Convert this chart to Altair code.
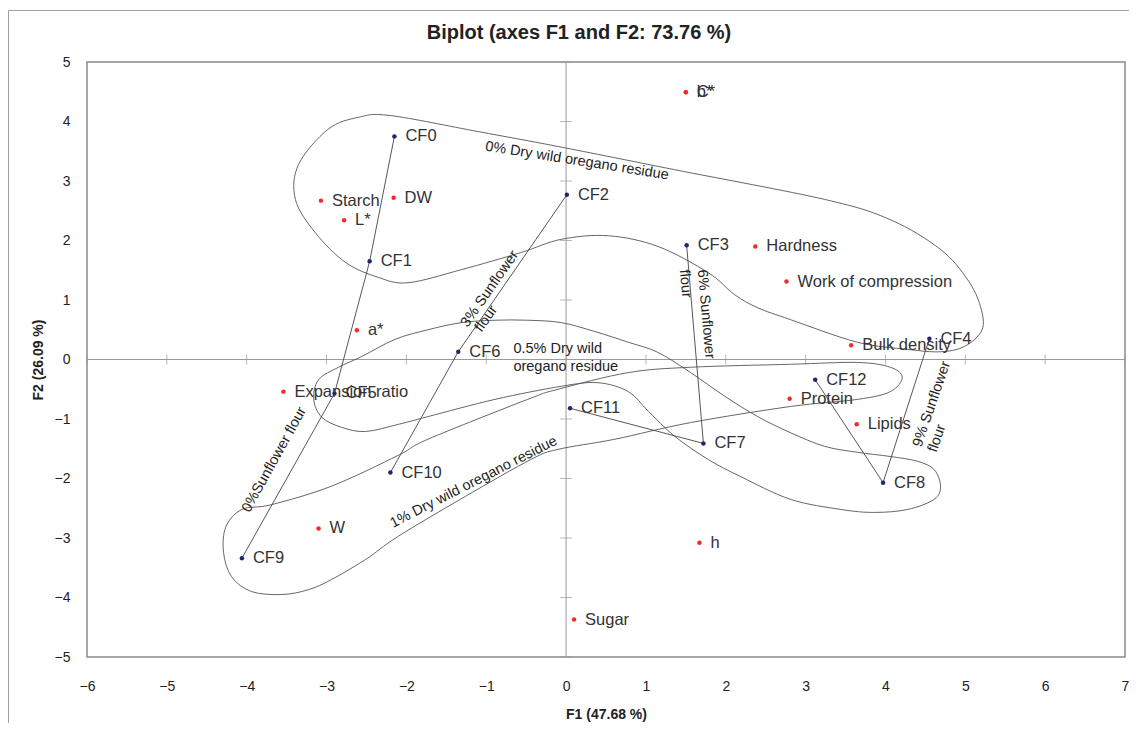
import altair as alt
import pandas as pd

# ---------------- data ----------------
obs_names = ["CF0", "CF1", "CF2", "CF3", "CF4", "CF5", "CF6", "CF7", "CF8", "CF9", "CF10", "CF11", "CF12"]
obs_x = [-2.15, -2.46, 0.01, 1.51, 4.55, -2.90, -1.35, 1.72, 3.97, -4.06, -2.20, 0.05, 3.12]
obs_y = [3.75, 1.65, 2.77, 1.92, 0.35, -0.57, 0.13, -1.41, -2.07, -3.34, -1.90, -0.82, -0.34]

var_names = ["b*", "C*", "Starch", "DW", "L*", "Hardness", "Work of compression", "a*",
             "Bulk density", "Expansion ratio", "Protein", "Lipids", "W", "h", "Sugar"]
var_x = [1.50, 1.50, -3.07, -2.16, -2.78, 2.37, 2.76, -2.62, 3.57, -3.54, 2.80, 3.64, -3.10, 1.67, 0.10]
var_y = [4.49, 4.49, 2.67, 2.72, 2.34, 1.90, 1.31, 0.49, 0.24, -0.54, -0.66, -1.09, -2.84, -3.08, -4.37]

# sunflower-flour groups (connected formulations)
sun_0 = ["CF0", "CF1", "CF5", "CF9"]
sun_3 = ["CF2", "CF6", "CF10"]
sun_6 = ["CF3", "CF7", "CF11"]
sun_9 = ["CF4", "CF8", "CF12"]

# dry wild oregano residue envelopes (outline points, data units)
env0_x = [-2.20, -1.10, -0.10, 1.36, 3.24, 4.06, 4.69, 5.03, 5.19, 5.21, 4.99, 4.69, 4.28, 3.65,
          2.81, 2.40, 2.11, 1.78, 1.15, 0.53, -0.06, -0.56, -1.31, -1.98, -2.35, -2.76, -3.14,
          -3.39, -3.35, -2.98, -2.60]
env0_y = [4.10, 3.83, 3.58, 3.19, 2.69, 2.35, 1.85, 1.34, 0.89, 0.50, 0.22, 0.13, 0.17, 0.29,
          0.67, 0.87, 1.09, 1.46, 1.90, 2.08, 2.02, 1.80, 1.51, 1.29, 1.38, 1.63, 2.13,
          2.69, 3.28, 3.87, 4.07]
env05_x = [-2.85, -2.56, -2.14, -1.73, -1.31, -0.89, -0.48, -0.06, 0.36, 0.78, 1.15, 1.56, 1.99,
           2.40, 2.81, 3.24, 3.65, 4.06, 4.40, 4.61, 4.69, 4.61, 4.28, 3.86, 3.44, 2.81, 2.19,
           1.78, 1.36, 1.03, 0.78, 0.40, -0.06, -0.89, -1.73, -2.10, -2.51, -2.81, -3.06,
           -3.16, -3.10]
env05_y = [-0.13, 0.05, 0.34, 0.50, 0.62, 0.66, 0.66, 0.62, 0.47, 0.29, 0.12, -0.22, -0.62,
           -0.96, -1.23, -1.46, -1.56, -1.63, -1.71, -1.85, -2.13, -2.35, -2.52, -2.57, -2.52,
           -2.35, -1.97, -1.68, -1.29, -0.87, -0.54, -0.39, -0.45, -0.67, -0.96, -1.09, -1.21,
           -1.14, -0.97, -0.67, -0.34]
env1_x = [-4.06, -3.69, -2.94, -2.10, -1.73, -0.48, -0.10, 0.78, 1.56, 2.81, 3.65, 4.06, 4.21,
          4.06, 3.65, 2.81, 1.56, 0.61, -0.10, -0.44, -1.26, -2.10, -2.51, -2.94, -3.23, -3.56,
          -3.94, -4.19, -4.29, -4.26]
env1_y = [-2.52, -2.44, -2.13, -1.61, -1.34, -0.67, -0.50, -0.22, -0.13, -0.08, -0.05, -0.13,
          -0.30, -0.54, -0.67, -0.79, -1.06, -1.34, -1.51, -1.68, -2.30, -2.97, -3.36, -3.70,
          -3.87, -3.95, -3.90, -3.65, -3.24, -2.81]

# annotation texts (left-anchored), positions in data units, angle in degrees
ann_text = ["0% Dry wild oregano residue", "3% Sunflower", "flour", "6% Sunflower", "flour",
            "9% Sunflower", "flour", "0%Sunflower flour", "0.5% Dry wild", "oregano residue",
            "1% Dry wild oregano residue"]
ann_x = [-1.01, -1.275, -1.10, 1.70, 1.475, 4.40, 4.59, -4.01, -0.66, -0.66, -2.19]
ann_y = [3.58, 0.57, 0.49, 1.51, 1.51, -1.46, -1.55, -2.55, 0.17, -0.12, -2.77]
ann_angle = [9, 305, 305, 85, 85, 289, 289, 299, 0, 0, 333]

x_ticks = list(range(-6, 8))
y_ticks = list(range(-5, 6))

chart_title = "Biplot (axes F1 and F2: 73.76 %)"

# ---------------- tables ----------------
pos = dict(zip(obs_names, zip(obs_x, obs_y)))

pts = pd.DataFrame({
    "name": obs_names + var_names,
    "x": obs_x + var_x,
    "y": obs_y + var_y,
    "kind": ["Observations"] * len(obs_names) + ["Variables"] * len(var_names),
})

sun_rows = []
for g, members in [("0%", sun_0), ("3%", sun_3), ("6%", sun_6), ("9%", sun_9)]:
    for i, m in enumerate(members):
        sun_rows.append({"grp": g, "i": i, "x": pos[m][0], "y": pos[m][1]})
sun_df = pd.DataFrame(sun_rows)

env_rows = []
for g, xs, ys in [("0%", env0_x, env0_y), ("0.5%", env05_x, env05_y), ("1%", env1_x, env1_y)]:
    for i, (a, b) in enumerate(zip(xs, ys)):
        env_rows.append({"env": g, "i": i, "x": a, "y": b})
env_df = pd.DataFrame(env_rows)

ann_df = pd.DataFrame({"text": ann_text, "x": ann_x, "y": ann_y, "angle": ann_angle})
xt_df = pd.DataFrame({"x": x_ticks, "y": [0] * len(x_ticks)})
yt_df = pd.DataFrame({"x": [0] * len(y_ticks), "y": y_ticks})

# ---------------- encodings ----------------
SANS = "Liberation Sans, Arial, sans-serif"
W, H = 1038, 595

X = alt.X("x:Q", scale=alt.Scale(domain=[-6, 7], nice=False, zero=False),
          axis=alt.Axis(values=x_ticks, format="d", ticks=False, domain=False, grid=False,
                        title="F1 (47.68 %)", labelFont=SANS, labelFontSize=14,
                        labelColor="#222", labelPadding=22, titleFont=SANS,
                        titleFontSize=14, titleFontWeight="bold", titleColor="#222",
                        titlePadding=14, labelFlush=False))
Y = alt.Y("y:Q", scale=alt.Scale(domain=[-5, 5], nice=False, zero=False),
          axis=alt.Axis(values=y_ticks, format="d", ticks=False, domain=False, grid=False,
                        title="F2 (26.09 %)", labelFont=SANS, labelFontSize=14,
                        labelColor="#222", labelPadding=17, titleFont=SANS,
                        titleFontSize=14, titleFontWeight="bold", titleColor="#222",
                        titlePadding=9, labelFlush=False))

GRAY = "#9a9a9a"
one = alt.Data(values=[{"a": 1}])

vzero = alt.Chart(one).mark_rule(color=GRAY, strokeWidth=1).encode(x=alt.datum(0))
hzero = alt.Chart(one).mark_rule(color=GRAY, strokeWidth=1).encode(y=alt.datum(0))

xticks = alt.Chart(xt_df).mark_tick(orient="vertical", color=GRAY, size=10, thickness=1).encode(x=X, y=Y)
yticks = alt.Chart(yt_df).mark_tick(orient="horizontal", color=GRAY, size=12, thickness=1).encode(x=X, y=Y)

env = alt.Chart(env_df).mark_line(interpolate="cardinal-closed", color="#555", strokeWidth=0.9).encode(
    x=X, y=Y, detail="env:N", order="i:Q")

sun = alt.Chart(sun_df).mark_line(color="#444", strokeWidth=0.9).encode(
    x=X, y=Y, detail="grp:N", order="i:Q")

points = alt.Chart(pts).mark_circle(size=20, opacity=1).encode(
    x=X, y=Y,
    color=alt.Color("kind:N", scale=alt.Scale(domain=["Observations", "Variables"],
                                              range=["#25256e", "#f42a2a"]), legend=None))

labels = alt.Chart(pts).mark_text(align="left", baseline="middle", dx=11, fontSize=16.5,
                                  font=SANS, color="#333").encode(x=X, y=Y, text="name:N")

ann = alt.Chart(ann_df).mark_text(align="left", baseline="middle", fontSize=14.5,
                                  font=SANS, color="#222").encode(
    x=X, y=Y, text="text:N", angle=alt.Angle("angle:Q", scale=None))

title_df = pd.DataFrame({"t": [chart_title]})
title_mark = alt.Chart(title_df).mark_text(
    align="center", baseline="middle", fontSize=20, fontWeight="bold", font=SANS, color="#222"
).encode(x=alt.value(579 - 87), y=alt.value(-29), text="t:N")

frame_top = alt.Chart(one).mark_rule(color="#a0a0a0", strokeWidth=1).encode(
    x=alt.value(-78.5), x2=alt.value(1050), y=alt.value(-51.5))
frame_left = alt.Chart(one).mark_rule(color="#a0a0a0", strokeWidth=1).encode(
    x=alt.value(-78.5), y=alt.value(-51.5), y2=alt.value(700))

chart = alt.layer(
    frame_top, frame_left, title_mark, vzero, hzero, xticks, yticks, env, sun, points, labels, ann
).properties(
    width=W, height=H,
    autosize=alt.AutoSizeParams(type="none"),
    padding={"left": 79, "top": 54, "right": 4, "bottom": 66},
).configure_view(stroke="#8a8a8a", strokeWidth=1.5)

chart.save("out.html", embed_options={"renderer": "svg", "actions": False})
